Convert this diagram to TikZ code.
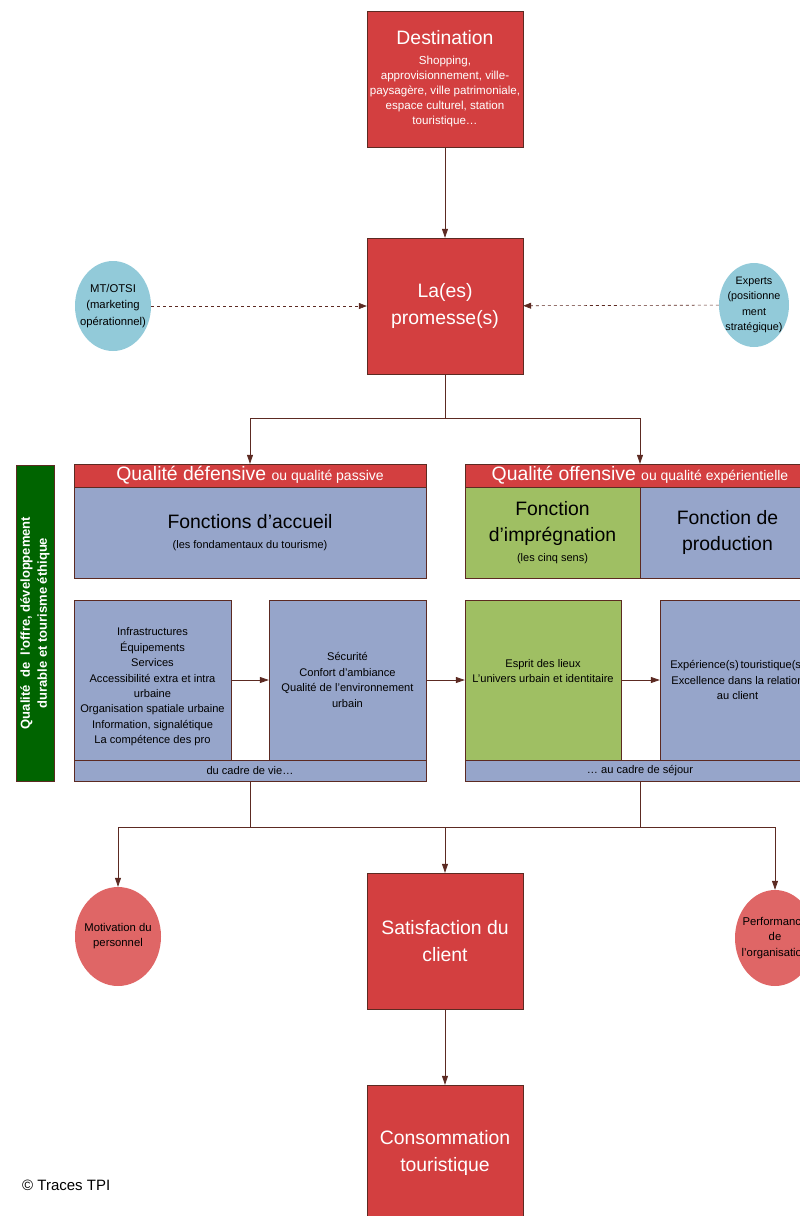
\documentclass[tikz,border=0pt]{standalone}
\usepackage{fontspec}
\setmainfont{Liberation Sans}
\usetikzlibrary{arrows.meta,shapes.geometric}

\definecolor{boxred}{RGB}{211,63,64}
\definecolor{boxblue}{RGB}{150,165,202}
\definecolor{boxgreen}{RGB}{159,191,99}
\definecolor{bargreen}{RGB}{0,100,0}
\definecolor{ovalblue}{RGB}{146,202,217}
\definecolor{ovalpink}{RGB}{223,102,102}
\definecolor{edge}{RGB}{92,42,34}

\newcommand{\bigtxt}{\fontsize{19.4}{26.5}\selectfont}
\newcommand{\midtxt}{\fontsize{14}{17}\selectfont}
\newcommand{\dsttxt}{\fontsize{11.6}{15}\selectfont}
\newcommand{\smtxt}{\fontsize{11.1}{15.4}\selectfont}
\newcommand{\tinytxt}{\fontsize{11}{14}\selectfont}

\tikzset{
  redbox/.style={draw=edge, fill=boxred, text=white, minimum width=156pt,
    minimum height=136pt, inner sep=0pt, align=center, font=\bigtxt},
  bluebox/.style={draw=edge, fill=boxblue, inner sep=0pt, align=center},
  greenbox/.style={draw=edge, fill=boxgreen, inner sep=0pt, align=center},
  oval/.style={ellipse, inner sep=0pt},
  ovaltext/.style={align=center, inner sep=0pt, font=\fontsize{11.3}{15.5}\selectfont},
  arr/.style={draw=edge, line width=0.8pt, -{Triangle[length=9pt,width=6pt]}},
  dasharr/.style={draw=edge, line width=0.6pt, dashed, -{Triangle[length=8pt,width=6pt]}},
  link/.style={draw=edge, line width=0.8pt}
}

\begin{document}
\begin{tikzpicture}[x=1pt,y=-1pt]
  \useasboundingbox (0,0) rectangle (800,1216);
  \clip (0,0) rectangle (800,1216);

  % top of the chain
  \node[redbox, font=\dsttxt] (dest) at (445,79) {{\bigtxt Destination}\\[5pt]
    Shopping,\\approvisionnement, ville-\\paysagère, ville patrimoniale,\\
    espace culturel, station\\touristique\dots};
  \node[redbox] (prom) at (445,306) {La(es)\\promesse(s)};
  \node[oval, fill=ovalblue, minimum width=76pt, minimum height=90pt] (mtotsi) at (113,306) {};
  \node[ovaltext, font=\fontsize{11.3}{16.5}\selectfont] (mtotsitxt) at (mtotsi.center)
    {MT/OTSI\\(marketing\\opérationnel)};
  \node[oval, fill=ovalblue, minimum width=70pt, minimum height=84pt] (experts) at (754,305) {};
  \node[ovaltext, font=\fontsize{10.8}{15.3}\selectfont] (expertstxt) at (experts.center)
    {Experts\\(positionne\\ment\\stratégique)};

  \draw[arr] (dest) -- (prom);
  \draw[dasharr] (mtotsi) -- (prom);
  \draw[dasharr] (experts) -- (prom);

  % the two qualities
  \node[draw=edge, fill=boxred, text=white, minimum width=352pt, minimum height=23pt, inner sep=0pt]
    (defhead) at (250,475.5) {\bigtxt Qualité défensive \midtxt ou qualité passive};
  \node[bluebox, minimum width=352pt, minimum height=91pt, font=\bigtxt] (accueil) at (250,532.5)
    {Fonctions d’accueil\\[-7pt] \tinytxt (les fondamentaux du tourisme)};
  \node[draw=edge, fill=boxred, text=white, minimum width=350pt, minimum height=23pt, inner sep=0pt]
    (offhead) at (640,475.5) {\bigtxt Qualité offensive \midtxt ou qualité expérientielle};
  \node[greenbox, minimum width=175pt, minimum height=91pt, font=\bigtxt] (impreg) at (552.5,532.5)
    {Fonction\\d’imprégnation\\[-7pt] \tinytxt (les cinq sens)};
  \node[bluebox, minimum width=175pt, minimum height=91pt, font=\bigtxt] (prod) at (727.5,532.5)
    {Fonction de\\production};

  \draw[arr] (prom.south) -- ++(0,44) -| (defhead.north);
  \draw[arr] (prom.south) -- ++(0,44) -| (offhead.north);

  % side bar
  \node[draw=edge, fill=bargreen, text=white, rotate=90, minimum width=316pt, minimum height=38pt,
    inner sep=0pt, align=center, font=\fontsize{13}{17}\selectfont\bfseries] (offre) at (35,623)
    {Qualité ~de ~l’offre, développement\\durable et tourisme éthique};

  % lower row
  \node[bluebox, minimum width=157pt, minimum height=160pt] (infra) at (152.5,680) {};
  \node[align=center, inner sep=0pt, font=\smtxt] (infratxt) at ([yshift=-7pt]infra.center)
    {Infrastructures\\Équipements\\Services\\Accessibilité extra et intra\\urbaine\\
    Organisation spatiale urbaine\\Information, signalétique\\La compétence des pro};
  \node[bluebox, minimum width=157pt, minimum height=160pt, font=\smtxt] (secu) at (347.5,680)
    {Sécurité\\Confort d'ambiance\\Qualité de l'environnement\\urbain};
  \node[greenbox, minimum width=156pt, minimum height=160pt] (esprit) at (543,680) {};
  \node[align=center, inner sep=0pt, font=\smtxt] (esprittxt) at ([yshift=9pt]esprit.center)
    {Esprit des lieux\\L'univers urbain et identitaire};
  \node[bluebox, minimum width=155pt, minimum height=160pt, font=\smtxt] (experi) at (737.5,680)
    {Expérience(s)\,touristique(s)\\Excellence dans la relation\\au client};
  \node[bluebox, minimum width=352pt, minimum height=21pt, font=\smtxt] (vie) at (250,770.5)
    {du cadre de vie\dots};
  \node[bluebox, minimum width=350pt, minimum height=21pt, font=\smtxt] (sejour) at (640,770.5)
    {\dots\ au cadre de séjour};

  \draw[arr] (infra) -- (secu);
  \draw[arr] (secu) -- (esprit);
  \draw[arr] (esprit) -- (experi);

  % towards the client
  \node[redbox] (satis) at (445,941) {Satisfaction du\\client};
  \node[redbox] (conso) at (445,1153) {Consommation\\touristique};
  \node[oval, fill=ovalpink, minimum width=86pt, minimum height=99pt] (motiv) at (118,936.5) {};
  \node[ovaltext, font=\fontsize{11.3}{15}\selectfont] (motivtxt) at (motiv.center)
    {Motivation du\\personnel};
  \node[oval, fill=ovalpink, minimum width=80pt, minimum height=96pt] (perf) at (775,938) {};
  \node[ovaltext] (perftxt) at (perf.center) {Performance\\de\\l’organisation};
  \coordinate (split) at (445,827);

  \draw[link] (vie.south) -- ++(0,46) -| (sejour.south);
  \draw[arr] (split) -| (motiv.north);
  \draw[arr] (split) -| (perf.north);
  \draw[arr] (split) -- (satis.north);
  \draw[arr] (satis) -- (conso);

  \node[anchor=west, font=\fontsize{15}{18}\selectfont, inner sep=0pt] (copy) at (22,1185) {© Traces TPI};
\end{tikzpicture}
\end{document}
